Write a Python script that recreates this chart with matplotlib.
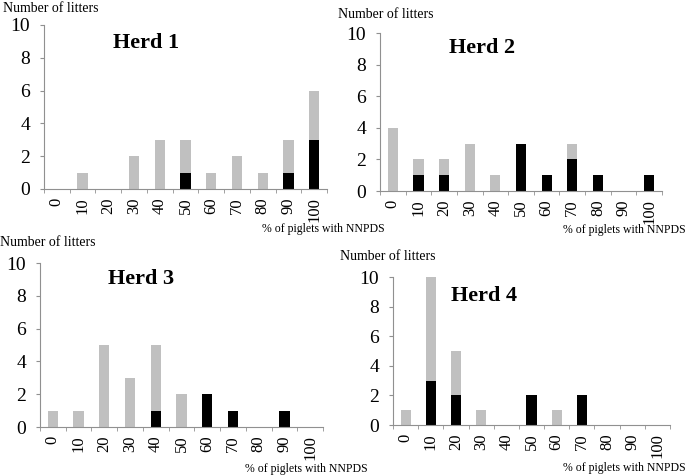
import numpy as np
import matplotlib
matplotlib.use("Agg")
import matplotlib.pyplot as plt

plt.rcParams['font.family'] = ['Liberation Serif', 'DejaVu Serif']

# categories (% of piglets with NNPDS)
cats = ["0", "10", "20", "30", "40", "50", "60", "70", "80", "90", "100"]

# litters per category: total height of bar, and black part at the bottom
herd1_total = [0, 1, 0, 2, 3, 3, 1, 2, 1, 3, 6]
herd1_black = [0, 0, 0, 0, 0, 1, 0, 0, 0, 1, 3]
herd2_total = [4, 2, 2, 3, 1, 3, 1, 3, 1, 0, 1]
herd2_black = [0, 1, 1, 0, 0, 3, 1, 2, 1, 0, 1]
herd3_total = [1, 1, 5, 3, 5, 2, 2, 1, 0, 1, 0]
herd3_black = [0, 0, 0, 0, 1, 0, 2, 1, 0, 1, 0]
herd4_total = [1, 10, 5, 1, 0, 2, 1, 2, 0, 0, 0]
herd4_black = [0, 3, 2, 0, 0, 2, 0, 2, 0, 0, 0]

W, H = 685, 476
fig = plt.figure(figsize=(W / 100, H / 100), dpi=100)


def px(x, y):
    return x / W, 1 - y / H


def panel(rect, total, black, title, title_xy, ylab_xy, xlab_xy):
    l, t, r, b = rect
    ax = fig.add_axes([l / W, 1 - b / H, (r - l) / W, (b - t) / H])
    x = np.arange(len(cats))
    black = np.array(black)
    gray = np.array(total) - black
    ax.bar(x, black, 0.4, color='black')
    ax.bar(x, gray, 0.4, bottom=black, color='#c0c0c0')
    ax.set_xlim(-0.5, len(cats) - 0.5)
    ax.set_ylim(0, 10)
    ax.set_yticks([0, 2, 4, 6, 8, 10])
    ax.set_xticks(x)
    ax.set_xticklabels(cats, rotation=90, fontsize=12)
    ax.set_xticks(np.arange(-0.5, len(cats)), minor=True)
    ax.tick_params(axis='x', which='major', length=0, pad=6)
    ax.tick_params(axis='x', which='minor', length=3, color='#909090')
    ax.tick_params(axis='y', length=3, color='#909090', labelsize=14, pad=7)
    for s in ['top', 'right']:
        ax.spines[s].set_visible(False)
    for s in ['left', 'bottom']:
        ax.spines[s].set_color('#909090')
    fig.text(*px(*title_xy), title, fontsize=16, fontweight='bold',
             ha='center', va='center')
    fig.text(*px(*ylab_xy), "Number of litters", fontsize=10, ha='left', va='center')
    fig.text(*px(*xlab_xy), "% of piglets with NNPDS", fontsize=8.5,
             ha='left', va='center')
    return ax


panel((44, 25, 327, 189), herd1_total, herd1_black, "Herd 1",
      (146, 43), (3, 8), (262, 229))
panel((380, 33, 662, 191), herd2_total, herd2_black, "Herd 2",
      (482, 48), (338, 14), (563, 230))
panel((40, 263, 323, 427), herd3_total, herd3_black, "Herd 3",
      (141, 279), (0, 242), (245, 469))
panel((393, 277, 670, 425), herd4_total, herd4_black, "Herd 4",
      (484, 296), (340, 256), (563, 468))

fig.savefig("out.png", dpi=100)
